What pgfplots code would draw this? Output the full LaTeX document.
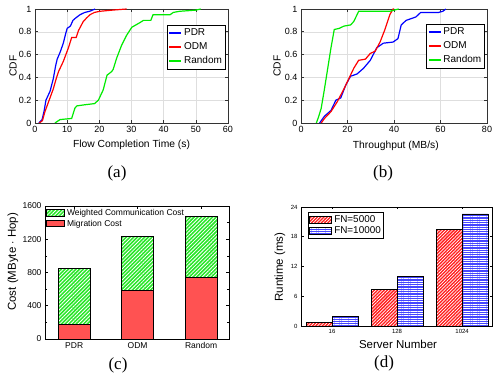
\documentclass[border=0pt]{standalone}
\usepackage{fontspec}
\setmainfont{Liberation Serif}
\setsansfont{Liberation Sans}
\usepackage{pgfplots}
\pgfplotsset{compat=1.18}
\usetikzlibrary{patterns.meta}
\definecolor{mblue}{RGB}{0,0,255}
\definecolor{mred}{RGB}{255,0,0}
\definecolor{mgreen}{RGB}{0,235,0}
\definecolor{bblue}{RGB}{70,70,255}
\definecolor{bred}{RGB}{255,30,30}
\definecolor{bgreen}{RGB}{40,230,40}
\newcommand{\fs}[1]{\fontsize{#1}{#1}\selectfont}
\pgfplotsset{
 cdf/.style={
  scale only axis, anchor=south west,
  axis line style={draw=black!80, line width=0.6pt},
  tick align=inside, major tick length=3pt,
  every tick/.style={black!80, line width=0.6pt},
  grid=major, grid style={black!13, line width=0.5pt},
  ymin=0, ymax=1, ytick={0,0.2,...,1},
  tick label style={font=\sffamily\fs{9}},
  /pgf/number format/assume math mode=true,
  label style={font=\sffamily\fs{10.3}},
  legend style={font=\sffamily\fs{10}, draw=black, line width=0.6pt, inner sep=1.5pt, row sep=1.5pt, anchor=north west},
  legend cell align=left,
  legend image code/.code={\draw[#1, line width=1.3pt] (0pt,0pt) -- (12pt,0pt);},
 },
}
\begin{document}
\begin{tikzpicture}
\path[use as bounding box] (0pt,0pt) rectangle (493pt,380pt);
\clip (0pt,0pt) rectangle (493pt,380pt);
% (a)
\begin{axis}[cdf, at={(35pt,257pt)}, width=193pt, height=114pt,
  xmin=0, xmax=60, xtick={0,10,...,60},
  xlabel={Flow Completion Time (s)}, ylabel={CDF},
  xlabel style={at={(axis description cs:0.5,-0.193)}, anchor=center},
  ylabel style={at={(axis description cs:-0.114,0.5)}, anchor=center},
  legend style={at={(axis description cs:0.684,0.86)}}]
\addplot[mblue, line width=1.2pt] coordinates {(1.2,0) (2.2,0.03) (2.8,0.1) (3.4,0.2) (4.7,0.28) (5.7,0.39) (6.4,0.5) (6.9,0.56) (7.8,0.62) (8.8,0.7) (9.5,0.78) (10.0,0.83) (11.0,0.85) (11.8,0.9) (12.6,0.92) (14.0,0.95) (15.5,0.97) (17.0,0.98) (18.7,1.0)};
\addplot[mred, line width=1.2pt] coordinates {(1.3,0) (2.3,0.02) (3.1,0.1) (4.4,0.2) (5.7,0.3) (6.5,0.38) (7.3,0.45) (8.8,0.54) (9.6,0.6) (10.4,0.66) (11.4,0.75) (12.8,0.75) (13.5,0.81) (15.0,0.89) (16,0.92) (17.1,0.95) (18.5,0.97) (20.2,0.98) (24,0.99) (28.5,1.0)};
\addplot[mgreen, line width=1.2pt] coordinates {(6.2,0) (7.8,0.03) (11.4,0.04) (12.4,0.13) (13.0,0.15) (15.5,0.16) (18.5,0.17) (19.7,0.2) (21.2,0.29) (22.4,0.42) (23.8,0.45) (24.3,0.47) (25.4,0.57) (26.9,0.68) (28.5,0.77) (30.1,0.84) (32.6,0.88) (33.7,0.9) (36,0.9) (36.7,0.95) (42,0.95) (43,0.97) (45,0.98) (50,0.99) (51.5,1.0)};
\legend{PDR,ODM,Random}
\end{axis}
% (b)
\begin{axis}[cdf, at={(301pt,257pt)}, width=186pt, height=114pt,
  xmin=0, xmax=80, xtick={0,20,...,80},
  xlabel={Throughput (MB/s)}, ylabel={CDF},
  xlabel style={at={(axis description cs:0.51,-0.2)}, anchor=center},
  ylabel style={at={(axis description cs:-0.129,0.5)}, anchor=center},
  legend style={at={(axis description cs:0.674,0.868)}}]
\addplot[mblue, line width=1.2pt] coordinates {(8,0) (10.1,0.06) (12.9,0.11) (15,0.2) (17.1,0.22) (19.2,0.33) (21.3,0.41) (24.1,0.43) (26.9,0.48) (29.8,0.55) (32.6,0.66) (35.4,0.7) (39.6,0.71) (41.7,0.74) (43.1,0.86) (45.2,0.9) (49.4,0.93) (51.5,0.97) (59.2,0.97) (61,0.98) (62.3,1.0)};
\addplot[mred, line width=1.2pt] coordinates {(8.7,0) (10.1,0.04) (12.9,0.1) (15.7,0.19) (18.5,0.3) (20.6,0.39) (22.7,0.48) (24.8,0.55) (27.7,0.56) (29.8,0.61) (31.9,0.63) (34,0.71) (36.1,0.82) (38.2,0.95) (39.6,1.0) (40,1)};
\addplot[mgreen, line width=1.2pt] coordinates {(6.6,0) (7.5,0.05) (8.7,0.13) (10.1,0.3) (11.5,0.48) (12.9,0.66) (14.3,0.82) (16.4,0.83) (18.5,0.85) (21.3,0.86) (22.7,0.89) (24.8,0.98) (38.2,0.98) (40,0.99) (42,1.0)};
\legend{PDR,ODM,Random}
\end{axis}
% (c)
\begin{axis}[at={(45pt,41pt)}, anchor=south west, scale only axis, width=184pt, height=133pt,
  ybar stacked, bar width=0.5,
  xmin=-0.46, xmax=2.44, ymin=0, ymax=1600,
  ytick={0,400,...,1600}, minor y tick num=1,
  xtick={0,1,2}, xticklabels={PDR,ODM,Random},
  scaled y ticks=false, /pgf/number format/1000 sep={},
  /pgf/number format/assume math mode=true,
  tick align=inside, major tick length=3pt, minor tick length=2pt,
  axis line style={line width=0.8pt}, every tick/.style={black, line width=0.6pt},
  tick label style={font=\sffamily\fs{8.5}},
  ylabel={Cost (MByte $\cdot$ Hop)},
  ylabel style={font=\sffamily\fs{11.5}, at={(axis description cs:-0.174,0.58)}, anchor=center},
  legend style={at={(axis description cs:0,1)}, anchor=north west, draw=none, fill=none, inner sep=1pt, font=\sffamily\fs{8.5}, row sep=-1pt},
  legend cell align=left, reverse legend,
  legend image code/.code={\draw[#1] (0pt,-3pt) rectangle (18pt,3.5pt);}]
\addplot[fill=bred, draw=black, line width=0.8pt, postaction={pattern={Dots[distance=2pt,radius=0.55pt]}, pattern color=white}] coordinates {(0,175) (1,585) (2,740)};
\addplot[fill=bgreen, draw=black, line width=0.8pt, postaction={pattern={Lines[angle=45,distance=2.6pt,line width=0.8pt]}, pattern color=white}] coordinates {(0,675) (1,645) (2,730)};
\legend{Migration Cost,Weighted Communication Cost}
\end{axis}
% (d)
\begin{axis}[at={(301pt,54pt)}, anchor=south west, scale only axis, width=191pt, height=119pt,
  ybar, bar width=0.4,
  xmin=-0.477, xmax=2.46, ymin=0, ymax=24,
  ytick={0,6,...,24},
  xtick={0,1,2}, xticklabels={16,128,1024},
  /pgf/number format/assume math mode=true,
  tick align=inside, major tick length=2.5pt,
  axis line style={line width=0.8pt}, every tick/.style={black, line width=0.6pt},
  tick label style={font=\sffamily\fs{6}},
  xlabel={Server Number}, ylabel={Runtime (ms)},
  label style={font=\sffamily\fs{11.5}},
  xlabel style={at={(axis description cs:0.508,-0.151)}, anchor=center},
  ylabel style={at={(axis description cs:-0.11,0.496)}, anchor=center},
  legend style={at={(axis description cs:0.037,0.958)}, anchor=north west, draw=black, line width=0.8pt, inner sep=1pt, font=\sffamily\fs{9.9}, row sep=-1pt},
  legend cell align=left,
  legend image code/.code={\draw[#1] (0pt,-3.5pt) rectangle (22pt,3.5pt);}]
\addplot[bar shift=0pt, fill=bred, draw=black, line width=0.8pt, postaction={pattern={Lines[angle=45,distance=2.3pt,line width=0.7pt]}, pattern color=white}] coordinates {(-0.2,0.75) (0.8,7.46) (1.8,19.5)};
\addplot[bar shift=0pt, fill=bblue, draw=black, line width=0.8pt, postaction={pattern={Lines[angle=0,distance=2.3pt,line width=0.7pt]}, pattern color=white}] coordinates {(0.2,1.9) (1.2,9.95) (2.2,22.6)};
\legend{FN=5000,FN=10000}
\end{axis}
% captions
\node[font=\fs{17}] at (117pt,207pt) {(a)};
\node[font=\fs{17}] at (383pt,207pt) {(b)};
\node[font=\fs{17}] at (118pt,15pt) {(c)};
\node[font=\fs{17}] at (384pt,17pt) {(d)};
\end{tikzpicture}
\end{document}
